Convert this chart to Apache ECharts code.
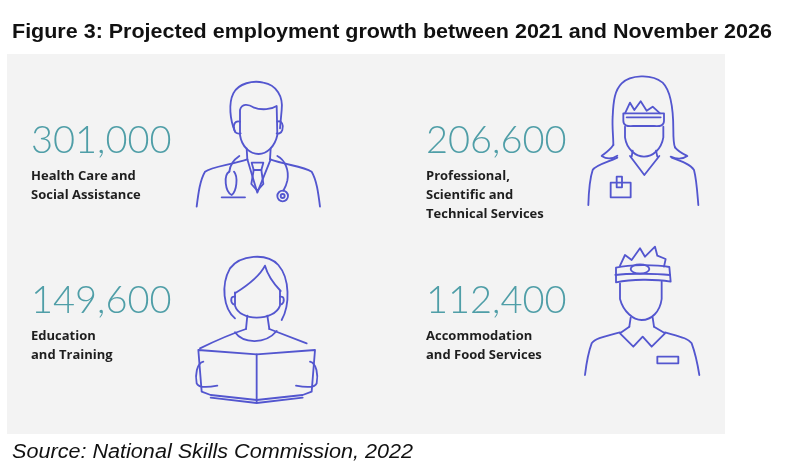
<!DOCTYPE html>
<html>
<head>
<meta charset="utf-8">
<script src="https://cdn.jsdelivr.net/npm/echarts@6/dist/echarts.min.js"></script>
<style>
  html, body { margin: 0; padding: 0; background: #fff; }
  #chart { width: 800px; height: 474px; }
</style>
</head>
<body>
<div id="chart"></div>
<script>
// projected employment growth, 2021 to Nov 2026
const industries = [
  ['Health Care and', 'Social Assistance'],
  ['Professional,', 'Scientific and', 'Technical Services'],
  ['Education', 'and Training'],
  ['Accommodation', 'and Food Services']
]
const growth = [301000, 206600, 149600, 112400]

const titleText = 'Figure 3: Projected employment growth between 2021 and November 2026'
const sourceText = 'Source: National Skills Commission, 2022'

// layout of the four cells (left edge of text, middle of the number)
const cells = [
  { x: 31, y: 141 },
  { x: 426, y: 141 },
  { x: 31, y: 301 },
  { x: 426, y: 301 }
]

const ICON = '#5356cf'
const TEAL = '#4f9ea7'

// icons are drawn in the 3x crop coordinate space, then scaled down
const icons = [
  {
    x: 180, y: 60,
    paths: [
      'M165 215C150 180 145 130 160 100C175 70 220 60 250 68C290 75 310 110 305 150L300 205',
      'M180 150C185 130 205 132 220 142C245 152 275 148 290 138L292 225C285 260 260 282 236 282C210 282 185 260 180 225Z',
      'M180 185C165 180 158 195 163 210C166 220 175 222 182 220',
      'M292 185C305 180 312 195 307 210C304 220 295 222 290 220',
      'M200 265L202 298M272 265L270 298',
      'M202 298C150 315 95 320 75 335C60 360 55 400 50 440',
      'M270 298C320 315 370 320 395 335C410 360 415 400 420 440',
      'M202 298L232 398L272 298',
      'M215 308L250 308L244 330L221 330Z',
      'M221 330L214 372L232 392L250 372L244 330',
      'M178 288C160 300 150 315 148 335',
      'M148 335C130 345 135 395 155 405C170 395 175 350 162 335',
      'M125 412L195 412',
      'M292 288C315 300 328 330 322 362C318 380 312 388 310 392',
      'M292 408A16 16 0 1 0 324 408A16 16 0 1 0 292 408Z',
      'M302 408A6 6 0 1 0 314 408A6 6 0 1 0 302 408Z'
    ]
  },
  {
    x: 580, y: 60,
    paths: [
      'M100 255C100 230 96 200 98 170C100 120 105 90 125 70C150 45 215 40 248 68C275 95 280 150 280 210C280 235 282 255 285 262',
      'M100 255C90 270 75 280 65 288C80 298 98 296 112 287',
      'M285 262C295 275 310 282 322 288C308 298 290 298 272 290',
      'M135 200L135 232C140 268 168 290 192 290C218 290 244 268 250 232L250 200',
      'M135 160L150 128L163 150L182 124L200 152L218 140L240 160',
      'M130 160L252 160L252 182C252 196 242 200 222 198L160 198C140 200 130 196 130 182Z',
      'M140 172L242 172',
      'M158 272L155 290M228 272L232 290',
      'M150 288L193 345L238 288',
      'M112 293C80 308 48 314 38 330C28 360 26 400 25 435',
      'M275 293C308 305 332 314 342 330C350 360 352 400 355 435',
      'M92 368L152 368L152 412L92 412Z',
      'M110 368L110 350L126 350L126 382L110 382Z'
    ]
  },
  {
    x: 180, y: 235,
    paths: [
      'M165 250C130 220 122 150 150 100C180 60 260 52 295 90C330 130 330 210 305 255',
      'M165 172L165 212C172 235 200 248 230 248C262 248 292 235 300 212L300 168',
      'M165 175C205 150 240 122 255 92C265 128 285 150 302 168',
      'M165 185C152 182 150 200 160 208',
      'M300 185C313 182 315 200 305 208',
      'M202 242L198 282M262 242L268 282',
      'M60 340C105 318 150 298 198 282',
      'M165 292C188 325 255 330 290 288',
      'M268 282L380 325',
      'M55 345L230 358L405 345L395 470L368 480L230 495L92 480L65 470Z',
      'M230 358L230 500',
      'M92 488L230 504L368 488',
      'M70 380C50 385 45 420 50 445C55 458 80 458 112 452',
      'M390 380C410 385 415 420 410 445C405 458 380 458 348 452'
    ]
  },
  {
    x: 570, y: 235,
    paths: [
      'M150 92L165 60L185 75L210 40L225 65L255 35L262 62L287 72L282 95',
      'M138 98C180 88 255 88 298 96L302 140C255 132 185 132 138 142Z',
      'M136 120C180 114 258 116 300 120',
      'M182 102A28 14 0 1 0 238 102A28 14 0 1 0 182 102Z',
      'M150 145L150 192C160 230 190 255 215 255C245 255 270 230 275 192L275 140',
      'M182 248L178 275M248 248L252 275',
      'M178 275L150 295L190 335L218 305L245 335L285 295L252 275',
      'M150 292C100 305 75 310 65 325C52 360 48 395 45 420',
      'M285 292C330 305 355 310 365 325C378 360 384 395 388 420',
      'M262 365L325 365L325 385L262 385Z'
    ]
  }
]

// register every icon stroke as its own shape type
icons.forEach((ic, i) => {
  ic.types = ic.paths.map((p, j) => {
    let name = 'icon_' + i + '_' + j
    echarts.graphic.registerShape(name, echarts.graphic.extendPath(p, {}))
    return name
  })
})

const graphic = []

// grey panel
graphic.push({
  type: 'rect',
  shape: { x: 7, y: 54, width: 718, height: 380 },
  style: { fill: '#f3f3f3' },
  z: 0
})

graphic.push({
  type: 'text',
  x: 12, y: 32,
  scaleX: 1.075,
  style: {
    text: titleText,
    font: 'bold 20px "Liberation Sans", Arial',
    fill: '#111',
    verticalAlign: 'middle'
  }
})

graphic.push({
  type: 'text',
  x: 12, y: 452,
  scaleX: 1.08,
  style: {
    text: sourceText,
    font: 'italic 20px "Liberation Sans", Arial',
    fill: '#111',
    verticalAlign: 'middle'
  }
})

growth.forEach((v, i) => {
  let c = cells[i]
  graphic.push({
    type: 'text',
    x: c.x, y: c.y,
    style: {
      text: v.toLocaleString('en-US'),
      font: '300 38px Lato, "Open Sans", sans-serif',
      fill: TEAL,
      verticalAlign: 'middle'
    }
  })
  industries[i].forEach((line, j) => {
    graphic.push({
      type: 'text',
      x: c.x, y: c.y + 35 + j * 19,
      style: {
        text: line,
        font: 'bold 13px "Open Sans", sans-serif',
        fill: '#1e1e1e',
        verticalAlign: 'middle'
      }
    })
  })
})

icons.forEach(ic => {
  graphic.push({
    type: 'group',
    x: ic.x, y: ic.y,
    scaleX: 1 / 3, scaleY: 1 / 3,
    children: ic.types.map(t => ({
      type: t,
      style: { fill: 'none', stroke: ICON, lineWidth: 5.5, lineJoin: 'round', lineCap: 'round' }
    }))
  })
})

const chart = echarts.init(document.getElementById('chart'), null, { renderer: 'canvas' })
chart.setOption({
  backgroundColor: '#fff',
  animation: false,
  graphic: graphic
})
</script>
</body>
</html>
